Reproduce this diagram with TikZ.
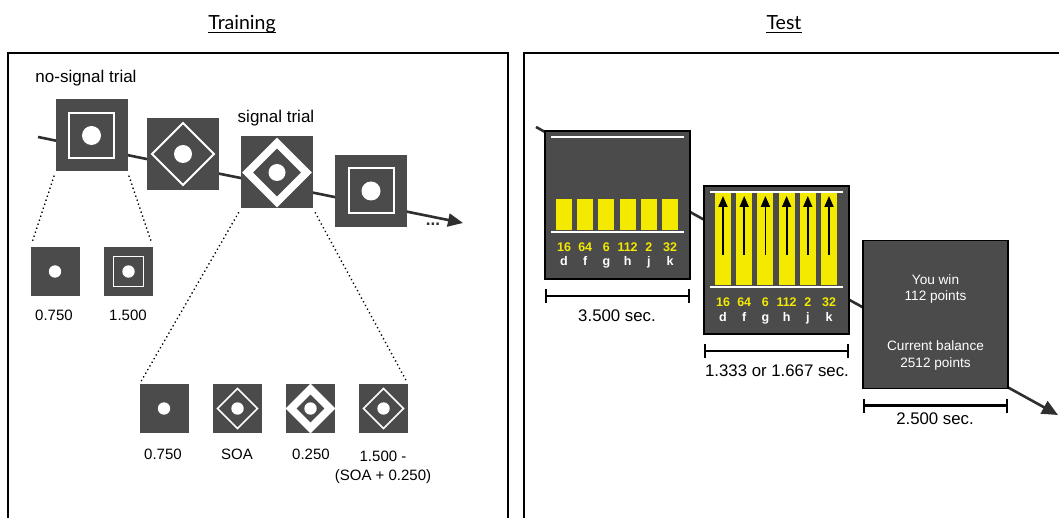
\documentclass[tikz,border=0pt]{standalone}
\usepackage{fontspec}
\setmainfont{Liberation Sans}
\newfontfamily\titlefont{Lato}
\usetikzlibrary{arrows.meta}
\definecolor{boxgray}{HTML}{4B4B4B}
\definecolor{keyyellow}{HTML}{F3EA00}
\definecolor{tlgray}{HTML}{2F2F2F}
\tikzset{
  bigbox/.style={fill=boxgray, minimum size=72pt, inner sep=0pt, outer sep=0pt},
  smallbox/.style={fill=boxgray, minimum size=49pt, inner sep=0pt, outer sep=0pt},
  testbox/.style={fill=boxgray, draw=black, line width=1.4pt, minimum width=145pt, minimum height=148pt, inner sep=0pt, outer sep=0pt},
  panel/.style={draw=black, line width=1.8pt},
  timeline/.style={draw=tlgray, line width=2.6pt},
  zoomline/.style={draw=black, line width=1.9pt, dash pattern=on 0.01pt off 4.2pt, line cap=round, shorten <=5pt, shorten >=4pt},
  trainlbl/.style={font=\fontsize{15}{19}\selectfont, inner sep=0pt, anchor=base},
  testlbl/.style={font=\fontsize{16.8}{20}\selectfont, inner sep=0pt, anchor=base},
  triallbl/.style={font=\fontsize{17}{20}\selectfont, inner sep=0pt, anchor=base},
  titlelbl/.style={font=\titlefont\fontsize{19.5}{22}\selectfont, inner sep=0pt, anchor=base},
  numlbl/.style={font=\bfseries\fontsize{12.5}{14}\selectfont, text=keyyellow, inner sep=0pt, anchor=base},
  keylbl/.style={font=\bfseries\fontsize{12.5}{14}\selectfont, text=white, inner sep=0pt, anchor=base},
  msglbl/.style={font=\fontsize{13.6}{16.3}\selectfont, text=white, inner sep=0pt, anchor=base, align=center},
  scalebar/.style={draw=black, line width=2.4pt, {Bar[width=14pt]}-{Bar[width=14pt]}},
  whiteline/.style={draw=white, line width=2.4pt},
  pics/bigsq/.style={code={
    \draw[white,line width=2pt] (-22.5,-22.5) rectangle (22.5,22.5);
    \fill[white] (0,0) circle (9.5);}},
  pics/bigthin/.style={code={
    \draw[white,line width=1.8pt] (-31,0)--(0,-31)--(31,0)--(0,31)--cycle;
    \fill[white] (0,0) circle (9);}},
  pics/bigthick/.style={code={
    \begin{scope}
      \clip (-36,-36) rectangle (36,36);
      \draw[white,line width=7.5pt] (-29.5,0)--(0,-29.5)--(29.5,0)--(0,29.5)--cycle;
    \end{scope}
    \fill[white] (0,0) circle (8.5);}},
  pics/smalldot/.style={code={\fill[white] (0,0) circle (6.2);}},
  pics/smallsq/.style={code={
    \draw[white,line width=1.8pt] (-15,-15) rectangle (15,15);
    \fill[white] (0,0) circle (6.2);}},
  pics/smallthin/.style={code={
    \draw[white,line width=1.6pt] (-20,0)--(0,-20)--(20,0)--(0,20)--cycle;
    \fill[white] (0,0) circle (6.2);}},
  pics/smallthick/.style={code={
    \begin{scope}
      \clip (-24.5,-24.5) rectangle (24.5,24.5);
      \draw[white,line width=7.5pt] (-19.5,0)--(0,-19.5)--(19.5,0)--(0,19.5)--cycle;
    \end{scope}
    \fill[white] (0,0) circle (6.2);}},
}
\begin{document}
\begin{tikzpicture}[x=1pt,y=-1pt]
\useasboundingbox (0,0) rectangle (1059,518);
\clip (0,0) rectangle (1059,518);
\fill[white] (0,0) rectangle (1059,518);

% titles
\node[titlelbl] (ttrain) at (242,29.5) {Training};
\draw[line width=1.2pt] ([yshift=-3pt]ttrain.base west) -- ([yshift=-3pt]ttrain.base east);
\node[titlelbl] (ttest) at (784,29.5) {Test};
\draw[line width=1.2pt] ([yshift=-3pt]ttest.base west) -- ([yshift=-3pt]ttest.base east);

% panels
\draw[panel] (8,53) rectangle (508,545);
\draw[panel] (524,53) rectangle (1075,545);

% ---------------- Training ----------------
\coordinate (tlA) at (38,137);
\coordinate (tlB) at (463,223);
\draw[timeline, -{Triangle[length=15pt,width=13pt]}] (tlA) -- (tlB);

\node[bigbox] (b1) at (91.5,135.5) {};
\pic at (b1) {bigsq};
\node[bigbox] (b2) at (183,154) {};
\pic at (b2) {bigthin};
\node[bigbox] (b3) at (277,172.5) {};
\pic at (b3) {bigthick};
\node[bigbox] (b4) at (371,191) {};
\pic at (b4) {bigsq};

\node[font=\bfseries\fontsize{17}{18}\selectfont, inner sep=0pt, text=tlgray] (dots) at (433,224) {...};

\node[triallbl] (nst) at (86,83) {no-signal trial};
\node[triallbl] (st) at (276,123) {signal trial};

\node[smallbox] (sa) at (55,271.5) {};
\pic at (sa) {smalldot};
\node[smallbox] (sb) at (128.5,271.5) {};
\pic at (sb) {smallsq};

\node[smallbox] (sc) at (164,408.5) {};
\pic at (sc) {smalldot};
\node[smallbox] (sd) at (237.5,408.5) {};
\pic at (sd) {smallthin};
\node[smallbox] (se) at (310.5,408.5) {};
\pic at (se) {smallthick};
\node[smallbox] (sf) at (383.5,408.5) {};
\pic at (sf) {smallthin};

\draw[zoomline] (b1.south west) -- (sa.north west);
\draw[zoomline] (b1.south east) -- (sb.north east);
\draw[zoomline] (b3.south west) -- (sc.north west);
\draw[zoomline] (b3.south east) -- (sf.north east);

\node[trainlbl] (la) at (54,320.5) {0.750};
\node[trainlbl] (lb) at (128,320.5) {1.500};
\node[trainlbl] (lc) at (163,459) {0.750};
\node[trainlbl] (ld) at (237,459) {SOA};
\node[trainlbl] (le) at (311,459) {0.250};
\node[trainlbl, align=center] (lf) at (383,480.5) {1.500 -\\(SOA + 0.250)};

% ---------------- Test ----------------
\coordinate (ttA) at (536,127);
\coordinate (ttB) at (1058,415);
\draw[timeline, -{Triangle[length=16pt,width=14pt]}] (ttA) -- (ttB);

\node[testbox] (t1) at (617.5,205) {};
\node[testbox] (t2) at (776.5,260) {};
\node[testbox] (t3) at (935.5,314.5) {};

\begin{scope}[shift={(t1.north west)}]
  \foreach \i in {0,...,5} {
    \fill[keyyellow] ({19+21.2*\i-8},68) rectangle ({19+21.2*\i+8},99);
  }
  \draw[whiteline] (6,6) -- (139,6);
  \draw[whiteline] (6,101) -- (139,101);
  \foreach \n/\k [count=\i from 0] in {16/d,64/f,6/g,112/h,2/j,32/k} {
    \node[numlbl] at ({19+21.2*\i},120.5) {\n};
    \node[keylbl] at ({19+21.2*\i},135) {\k};
  }
\end{scope}

\begin{scope}[shift={(t2.north west)}]
  \foreach \i in {0,...,5} {
    \fill[keyyellow] ({19+21.2*\i-8},7) rectangle ({19+21.2*\i+8},99);
    \draw[black, line width=1.8pt, -{Triangle[length=11pt,width=9pt]}] ({19+21.2*\i},69) -- ({19+21.2*\i},10);
  }
  \draw[whiteline] (6,6) -- (139,6);
  \draw[whiteline] (6,101) -- (139,101);
  \foreach \n/\k [count=\i from 0] in {16/d,64/f,6/g,112/h,2/j,32/k} {
    \node[numlbl] at ({19+21.2*\i},120.5) {\n};
    \node[keylbl] at ({19+21.2*\i},135) {\k};
  }
\end{scope}

\node[msglbl] (win) at (935.5,301) {You win\\112 points};
\node[msglbl] (bal) at (935.5,367) {Current balance\\2512 points};

\draw[scalebar] ([yshift=-17pt]t1.south west) -- ([yshift=-17pt]t1.south east);
\draw[scalebar] ([yshift=-17pt]t2.south west) -- ([yshift=-17pt]t2.south east);
\draw[scalebar] ([yshift=-17pt]t3.south west) -- ([yshift=-17pt]t3.south east);

\node[testlbl] (d1) at (617,321.5) {3.500 sec.};
\node[testlbl] (d2) at (777,376) {1.333 or 1.667 sec.};
\node[testlbl] (d3) at (935,424) {2.500 sec.};
\end{tikzpicture}
\end{document}
